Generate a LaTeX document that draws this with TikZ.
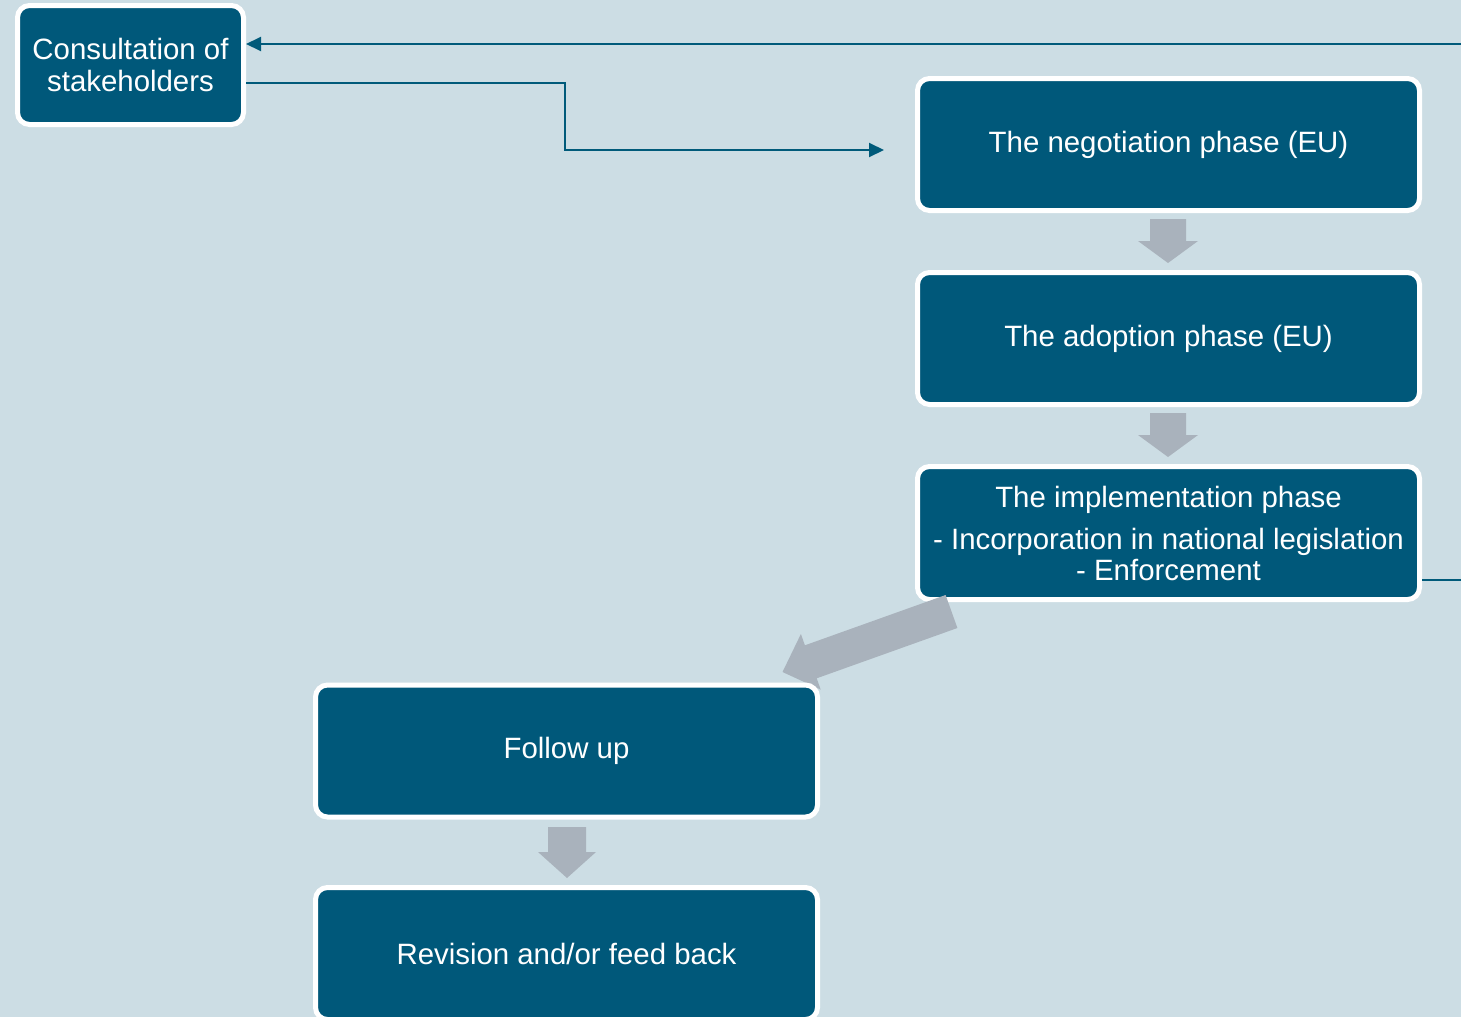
\documentclass[tikz,border=0pt]{standalone}
\usepackage{fontspec}
\setmainfont{Liberation Sans}
\usetikzlibrary{arrows.meta}
\definecolor{bgc}{RGB}{204,221,228}
\definecolor{boxc}{RGB}{0,88,122}
\definecolor{linec}{RGB}{0,90,122}
\definecolor{grayc}{RGB}{169,178,188}
\tikzset{
  stagebox/.style={draw=white, line width=5pt, fill=boxc, rounded corners=12pt,
    text=white, align=center, inner sep=0pt, outer sep=2.5pt,
    font=\fontsize{29.4}{32}\selectfont},
  bigbox/.style={stagebox, minimum width=502pt, minimum height=132pt},
  conn/.style={draw=linec, line width=2pt},
  tipc/.style={-{Triangle[length=15pt,width=14pt]}},
  blockarrow/.style={fill=grayc, draw=none}
}
\begin{document}
\begin{tikzpicture}[x=1pt,y=-1pt]
\useasboundingbox (0,0) rectangle (1461,1017);
\fill[bgc] (0,0) rectangle (1461,1017);

\node[stagebox, minimum width=226pt, minimum height=119pt] (consult) at (130.5,65)
  {Consultation of\\stakeholders};
\node[bigbox] (neg) at (1168.5,144.5) {The negotiation phase (EU)};
\node[bigbox] (adopt) at (1168.5,338.5) {The adoption phase (EU)};
\node[bigbox, minimum height=133pt] (impl) at (1168.5,533)
  {The implementation phase\\[10pt]- Incorporation in national legislation\\[-1pt]- Enforcement};

% diagonal block arrow from implementation to follow up
\fill[blockarrow] (945.6,595.0) -- (957.4,628.0) -- (816.7,678.3) -- (820.7,689.6)
  -- (782.5,672.0) -- (800.9,634.0) -- (804.9,645.3) -- cycle;

\node[bigbox] (follow) at (566.5,751) {Follow up};
\node[bigbox] (rev) at (566.5,953.5) {Revision and/or feed back};

% down block arrows
\fill[blockarrow] (1150,219) -- (1186,219) -- (1186,241) -- (1198,241) -- (1168,263)
  -- (1138,241) -- (1150,241) -- cycle;
\fill[blockarrow] (1150,413) -- (1186,413) -- (1186,435) -- (1198,435) -- (1168,457)
  -- (1138,435) -- (1150,435) -- cycle;
\fill[blockarrow] (548,827) -- (586,827) -- (586,852) -- (596,852) -- (567,878)
  -- (538,852) -- (548,852) -- cycle;

% connectors
\coordinate (negin) at (884,150);
\coordinate (loopR) at (1500,580);
\coordinate (loopT) at (1500,44);
\draw[conn, tipc] ([yshift=-18pt]consult.east) -| (565,150) -- (negin);
\draw[conn] (impl.east |- loopR) -- (loopR) -- (loopT);
\draw[conn, tipc] (loopT) -- (consult.east |- loopT);
\end{tikzpicture}
\end{document}
